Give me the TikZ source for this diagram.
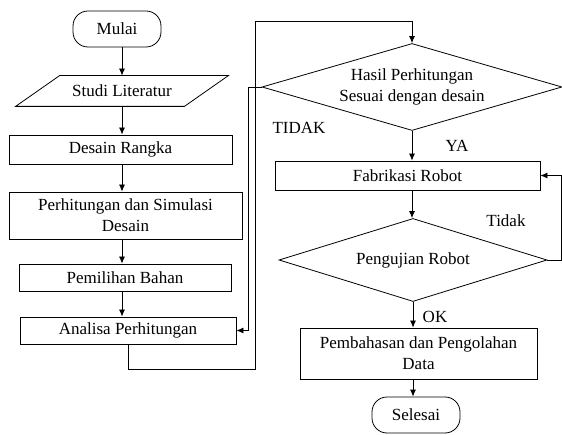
\documentclass[tikz,border=0pt]{standalone}
\usepackage{fontspec}
\setmainfont{Liberation Serif}
\usetikzlibrary{shapes.geometric,arrows.meta}
\tikzstyle{proc}=[rectangle, draw=black, line width=0.8pt, inner sep=0pt, anchor=center, align=center]
\tikzstyle{term}=[proc, rounded corners=15pt, minimum width=88pt, minimum height=36pt]
\tikzstyle{io}=[proc, draw=none, minimum width=168pt, minimum height=30pt]
\tikzstyle{cond}=[diamond, draw=black, line width=0.8pt, inner sep=0pt, align=center]
\tikzstyle{annot}=[align=center]
\tikzstyle{arr}=[line width=0.8pt, -{Latex[length=7pt,width=6pt]}]

\begin{document}
\begin{tikzpicture}[x=1pt, y=-1pt, font=\fontsize{17}{21}\selectfont]
	\useasboundingbox (0,0) rectangle (562,435);

	% kolom kiri
	\node[term](mulai) at (117,29){Mulai};
	\node[io](studi) at (122,91){Studi Literatur};
	\draw[line width=0.8pt] ([xshift=-22pt]studi.south west) -- ([xshift=22pt]studi.north west) -- ([xshift=22pt]studi.north east) -- ([xshift=-22pt]studi.south east) -- cycle;
	\node[proc, minimum width=223pt, minimum height=29pt](desain) at (120.5,149.5){Desain Rangka};
	\node[proc, minimum width=233pt, minimum height=47pt](hitung) at (125.5,215.5){Perhitungan dan Simulasi\\Desain};
	\node[proc, minimum width=212pt, minimum height=27pt](bahan) at (125,277.5){Pemilihan Bahan};
	\node[proc, minimum width=216pt, minimum height=27pt](analisa) at (128,330.5){Analisa Perhitungan};

	% kolom kanan
	\node[cond, aspect=3.45, minimum width=300pt, minimum height=87pt](hasil) at (412,87){Hasil Perhitungan\\Sesuai dengan desain};
	\node[proc, minimum width=265pt, minimum height=29pt](fabrikasi) at (407.5,175.5){Fabrikasi Robot};
	\node[cond, aspect=3.23, minimum width=268pt, minimum height=83pt](uji) at (413,260){Pengujian Robot};
	\node[proc, minimum width=237pt, minimum height=51pt](bahas) at (418.5,353.5){Pembahasan dan Pengolahan\\Data};
	\node[term](selesai) at (416,415){Selesai};

	\node[annot](tidak1) at (299,128){TIDAK};
	\node[annot](ya) at (457,146){YA};
	\node[annot](tidak2) at (506,221){Tidak};
	\node[annot](ok) at (435,317){OK};

	\draw[arr] (mulai.south -| studi) -- (studi.north);
	\draw[arr] (studi.south) -- (desain.north -| studi);
	\draw[arr] (desain.south -| studi) -- (hitung.north -| studi);
	\draw[arr] (hitung.south -| studi) -- (bahan.north -| studi);
	\draw[arr] (bahan.south -| studi) -- (analisa.north -| studi);

	\draw[arr] (analisa.south) -- ++(0,25) -| (255,21) -| (hasil.north);
	\draw[arr] (hasil.west) -- ++(-13,0) |- (analisa.east);

	\draw[arr] (hasil.south) -- (fabrikasi.north -| hasil);
	\draw[arr] (fabrikasi.south -| hasil) -- (uji.north -| hasil);
	\draw[arr] (uji.east) -- ++(14,0) |- (fabrikasi.east);
	\draw[arr] (uji.south) -- (bahas.north -| uji);
	\draw[arr] (bahas.south -| uji) -- (selesai.north -| uji);
\end{tikzpicture}
\end{document}
